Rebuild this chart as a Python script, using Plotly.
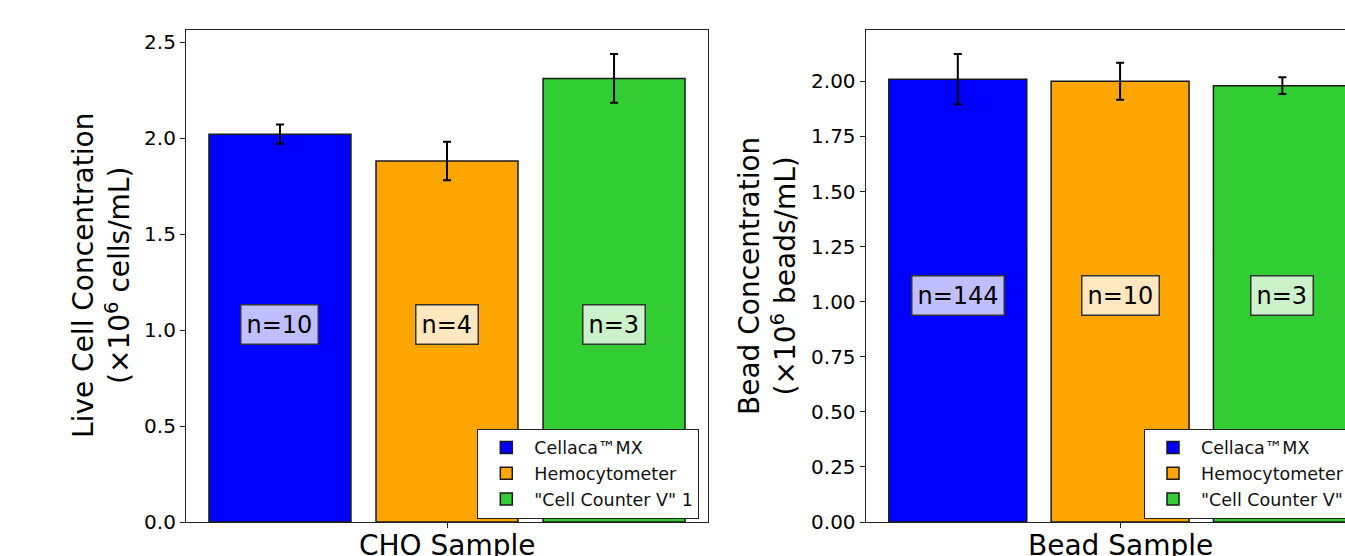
import plotly.graph_objects as go

# ---- data ----
methods = ["Cellaca\u2122MX", "Hemocytometer", "\"Cell Counter V\" 1"]
methods_right = ["Cellaca\u2122MX", "Hemocytometer", "\"Cell Counter V\""]
colors = ["#0000FF", "#FFA500", "#32CD32"]
label_bg = ["#BFBFFF", "#FFE8BF", "#CCF2CC"]

cho_means = [2.02, 1.88, 2.31]
cho_errs = [0.05, 0.10, 0.127]
cho_n = [10, 4, 3]

bead_means = [2.01, 2.00, 1.98]
bead_errs = [0.114, 0.084, 0.038]
bead_n = [144, 10, 3]

label_y = 1.03
W, H = 1345, 556
FONT = "DejaVu Sans"

fig = go.Figure()

for i in range(3):
    fig.add_trace(go.Bar(
        x=[i], y=[cho_means[i]], width=0.85, name=methods[i],
        marker=dict(color=colors[i], line=dict(color="#1a1a1a", width=1.5)),
        error_y=dict(type="data", array=[cho_errs[i]], color="black", thickness=2, width=4),
        xaxis="x", yaxis="y", legend="legend",
    ))
for i in range(3):
    fig.add_trace(go.Bar(
        x=[i], y=[bead_means[i]], width=0.85, name=methods_right[i],
        marker=dict(color=colors[i], line=dict(color="#1a1a1a", width=1.5)),
        error_y=dict(type="data", array=[bead_errs[i]], color="black", thickness=2, width=4),
        xaxis="x2", yaxis="y2", legend="legend2",
    ))

# n labels
for i in range(3):
    fig.add_annotation(x=i, y=label_y, xref="x", yref="y", text=f"n={cho_n[i]}",
                       showarrow=False, font=dict(size=24, color="black", family=FONT),
                       bgcolor=label_bg[i], bordercolor="#333333", borderwidth=1.5, borderpad=5)
    fig.add_annotation(x=i, y=label_y, xref="x2", yref="y2", text=f"n={bead_n[i]}",
                       showarrow=False, font=dict(size=24, color="black", family=FONT),
                       bgcolor=label_bg[i], bordercolor="#333333", borderwidth=1.5, borderpad=5)

# axis titles as annotations
fig.add_annotation(x=101 / W, y=0.5, xref="paper", yref="paper", textangle=-90,
                   xanchor="center", yanchor="middle",
                   text="Live Cell Concentration<br>(\u00d710<sup>6</sup> cells/mL)",
                   showarrow=False, font=dict(size=28, color="black", family=FONT))
fig.add_annotation(x=767 / W, y=0.5, xref="paper", yref="paper", textangle=-90,
                   xanchor="center", yanchor="middle",
                   text="Bead Concentration<br>(\u00d710<sup>6</sup> beads/mL)",
                   showarrow=False, font=dict(size=28, color="black", family=FONT))
fig.add_annotation(x=1.0, y=-5 / 522, xref="x", yref="paper", yanchor="top", xanchor="center",
                   text="CHO Sample", showarrow=False,
                   font=dict(size=28, color="black", family=FONT))
fig.add_annotation(x=1.0, y=-5 / 522, xref="x2", yref="paper", yanchor="top", xanchor="center",
                   text="Bead Sample", showarrow=False,
                   font=dict(size=28, color="black", family=FONT))

axis_common = dict(showgrid=False, zeroline=False, showline=True, linecolor="#222222",
                   linewidth=1.2, ticks="outside", ticklen=5, tickcolor="#222222",
                   tickfont=dict(size=20, color="black", family=FONT), automargin=False)

legend_common = dict(xanchor="left", yanchor="top", bgcolor="white", bordercolor="#222222",
                     borderwidth=1, font=dict(size=17.5, color="#111111", family=FONT),
                     itemwidth=46)

fig.update_layout(
    width=W, height=H,
    margin=dict(l=0, r=0, t=30, b=34, autoexpand=False),
    paper_bgcolor="white", plot_bgcolor="white",
    barmode="overlay",
    font=dict(family=FONT, color="black"),
    xaxis=dict(domain=[186 / W, 708 / W], range=[-0.5625, 2.5625], tickvals=[1],
               showticklabels=False, mirror=True, **axis_common),
    yaxis=dict(range=[0, 2.5625], tickvals=[0, 0.5, 1.0, 1.5, 2.0, 2.5], tickformat=".1f",
               mirror=True, **axis_common),
    xaxis2=dict(domain=[865.7 / W, 1.0], range=[-0.5675, 2.386], tickvals=[1],
                showticklabels=False, mirror=True, anchor="y2", **axis_common),
    yaxis2=dict(range=[0, 2.233], tickvals=[0, 0.25, 0.5, 0.75, 1.0, 1.25, 1.5, 1.75, 2.0],
                tickformat=".2f", mirror=False, anchor="x2", **axis_common),
    legend=dict(x=477.3 / W, y=(522 - 423) / 522, **legend_common),
    legend2=dict(x=1144 / W, y=(522 - 423) / 522, **legend_common),
)

fig.write_html("out.html", config={"displayModeBar": False},
               post_script="document.body.style.margin='0';document.body.style.overflow='hidden';")
